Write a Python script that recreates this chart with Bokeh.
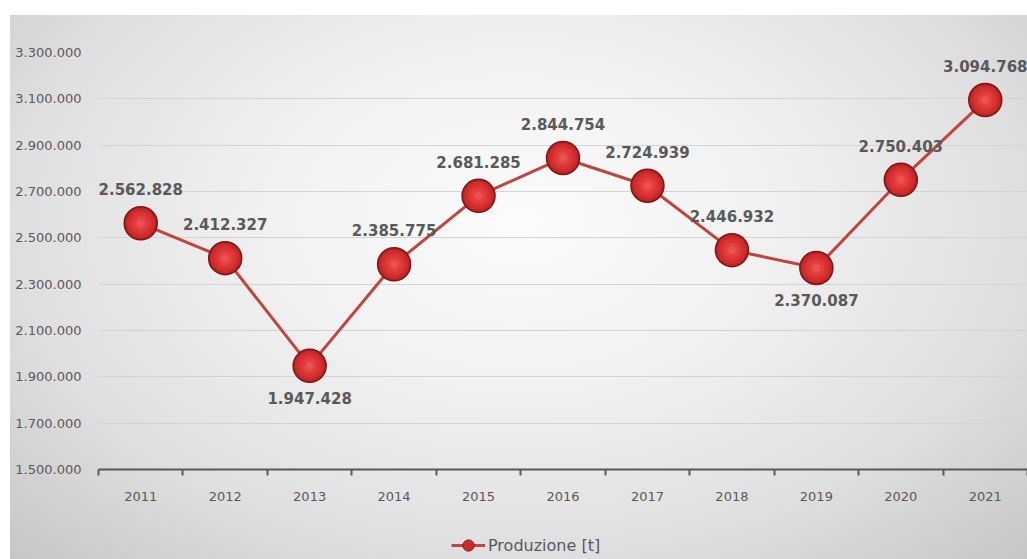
from bokeh.plotting import figure
from bokeh.layouts import column
from bokeh.models import (ColumnDataSource, Range1d, FixedTicker, Legend, LegendItem,
                          CustomJSTickFormatter)
from bokeh.core.properties import value
from bokeh.embed import file_html
from bokeh.resources import INLINE

years = ["2011", "2012", "2013", "2014", "2015", "2016", "2017", "2018", "2019", "2020", "2021"]
production = [2562828, 2412327, 1947428, 2385775, 2681285, 2844754, 2724939, 2446932, 2370087, 2750403, 3094768]
series_name = "Produzione [t]"
y_ticks = [1500000, 1700000, 1900000, 2100000, 2300000, 2500000, 2700000, 2900000, 3100000, 3300000]

n = len(years)
xpos = [i + 0.5 for i in range(n)]          # category centres on a 0..n scale
labels_below = {"2013", "2019"}
labels = [f"{v:,}".replace(",", ".") for v in production]
offsets = [32 if y in labels_below else -34 for y in years]

src = ColumnDataSource(dict(x=xpos, y=production, lab=labels, off=offsets))

FONT = "DejaVu Sans"
GRAY = "#595959"
LINE = "#c0443f"

p = figure(width=1027, height=525, x_range=Range1d(0, n), y_range=Range1d(y_ticks[0], y_ticks[-1]),
           output_backend="svg", toolbar_location=None,
           min_border_left=98, min_border_top=52, min_border_right=0, min_border_bottom=56)
p.background_fill_color = None
p.border_fill_color = None
p.outline_line_color = None

# y axis
p.yaxis.ticker = FixedTicker(ticks=y_ticks)
p.yaxis.formatter = CustomJSTickFormatter(code="return Math.round(tick).toString().replace(/\\B(?=(\\d{3})+(?!\\d))/g, '.');")
p.yaxis.axis_line_color = None
p.yaxis.major_tick_line_color = None
p.yaxis.minor_tick_line_color = None
p.yaxis.major_label_standoff = 11
p.yaxis.major_label_text_font = FONT
p.yaxis.major_label_text_font_size = "13px"
p.yaxis.major_label_text_color = GRAY
p.ygrid.grid_line_color = "#d4d4d4"
p.ygrid.grid_line_width = 1

# x axis: labels at category centres, tick marks at category boundaries
p.xaxis.ticker = FixedTicker(ticks=xpos, minor_ticks=list(range(n + 1)))
p.xaxis.formatter = CustomJSTickFormatter(args=dict(years=years),
                                          code="return years[Math.floor(tick)] || '';")
p.xaxis.axis_line_color = GRAY
p.xaxis.axis_line_width = 2
p.xaxis.major_tick_line_color = None
p.xaxis.minor_tick_line_color = GRAY
p.xaxis.minor_tick_line_width = 2
p.xaxis.minor_tick_in = 0
p.xaxis.minor_tick_out = 6
p.xaxis.major_label_standoff = 16
p.xaxis.major_label_text_font = FONT
p.xaxis.major_label_text_font_size = "13px"
p.xaxis.major_label_text_color = GRAY
p.xgrid.grid_line_color = None

line = p.line("x", "y", source=src, line_color=LINE, line_width=3)
pts = p.scatter("x", "y", source=src, size=33, fill_color="#bd2525",
                line_color="#7d1616", line_width=1.5)
# soft shading layers to suggest the glossy sphere markers
for size, color in [(28, "#cf2d2d"), (22, "#db3434"), (15, "#e43f3f"), (8, "#ec5050")]:
    p.scatter("x", "y", source=src, size=size, fill_color=color, line_color=None)

p.text("x", "y", text="lab", source=src, y_offset="off", text_align="center",
       text_baseline="middle", text_font=value(FONT), text_font_style="bold",
       text_font_size="15px", text_color=GRAY)

# legend strip below the chart (its own small figure so the legend is not clipped)
lf = figure(width=1027, height=34, x_range=Range1d(0, 1), y_range=Range1d(0, 1),
            x_axis_location=None, y_axis_location=None,
            output_backend="svg", toolbar_location=None,
            min_border_left=0, min_border_right=0, min_border_top=0, min_border_bottom=0)
lf.background_fill_color = None
lf.border_fill_color = None
lf.outline_line_color = None
lf.grid.grid_line_color = None
# same series, drawn out of view: they only supply the legend glyph
leg_line = lf.line("x", "y", source=src, line_color=LINE, line_width=3)
leg_pts = lf.scatter("x", "y", source=src, size=33, fill_color="#d22a2a",
                     line_color="#7d1616", line_width=1)
legend = Legend(items=[LegendItem(label=series_name, renderers=[leg_line, leg_pts])],
                location=(353, 0), orientation="horizontal",
                background_fill_alpha=0, border_line_color=None,
                label_text_font=FONT, label_text_font_size="16px", label_text_color=GRAY,
                glyph_width=34, glyph_height=28, label_standoff=3, padding=0, margin=0)
lf.add_layout(legend, "center")

layout = column(p, lf, spacing=0)
layout.styles = {"background": "radial-gradient(ellipse farthest-corner at 50% 38%, #fbfbfb 0%, #f1f1f1 35%, #dfdfdf 70%, #c6c6c6 100%) 10px 15px / calc(100% - 10px) calc(100% - 15px) no-repeat, #ffffff"}

open("out.html", "w").write(file_html(layout, INLINE))
